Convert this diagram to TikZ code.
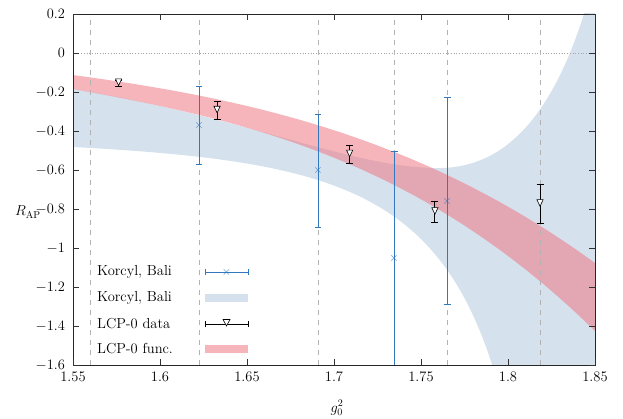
\documentclass[tikz,border=0pt]{standalone}
\definecolor{bandblue}{RGB}{213,226,238}
\definecolor{bandred}{RGB}{238,120,130}
\definecolor{ptblue}{RGB}{50,120,190}
\tikzset{
  tick/.style={line width=0.7pt,black!80},
  vline/.style={gray!60,dashed,dash pattern=on 5pt off 5pt,line width=0.7pt},
  ebb/.style={ptblue,line width=0.9pt},
  ebk/.style={black,line width=0.9pt},
  lbl/.style={font=\fontsize{14.5}{16}\selectfont,inner sep=1pt},
  xmark/.style={ptblue,inner sep=0pt,font=\fontsize{12}{12}\selectfont},
}
\begin{document}
\begin{tikzpicture}[x=1pt,y=1pt]
\useasboundingbox (0,0) rectangle (623,418);
\begin{scope}[x=1740pt,y=195pt,shift={(-2624pt,365pt)}]
\begin{scope}
\clip (1.55,-1.6) rectangle (1.85,0.2);
\fill[bandblue] (1.55,-0.185) .. controls (1.65,-0.33) and (1.71,-0.59) .. (1.76,-0.59)
 .. controls (1.80,-0.59) and (1.828,-0.3) .. (1.847,0.3) -- (1.87,0.5) -- (1.87,-2) -- (1.80,-1.9)
 .. controls (1.77,-0.72) and (1.71,-0.56) .. (1.55,-0.482) -- cycle;
\fill[bandred,opacity=0.55] (1.55,-0.113) .. controls (1.65,-0.233) and (1.75,-0.427) .. (1.85,-1.077)
 -- (1.85,-1.426) .. controls (1.75,-0.55) and (1.65,-0.345) .. (1.55,-0.185) -- cycle;
\end{scope}
\draw[gray!70,dotted,line width=0.7pt] (1.55,0) -- (1.85,0);
\foreach \g in {1.5598,1.6224,1.6908,1.7345,1.765,1.8184}
  \draw[vline] (\g,-1.6) -- (\g,0.2);
% blue data
\foreach \g/\r/\e in {1.6224/-0.374/0.2,1.6908/-0.605/0.29,1.7345/-1.056/0.55,1.765/-0.759/0.53}{
  \begin{scope}
  \clip (1.55,-1.6) rectangle (1.85,0.2);
  \draw[ebb] (\g,\r-\e) -- (\g,\r+\e);
  \draw[ebb] (\g-0.002,\r-\e) -- (\g+0.002,\r-\e);
  \draw[ebb] (\g-0.002,\r+\e) -- (\g+0.002,\r+\e);
  \node[xmark] at (\g,\r) {$\times$};
  \end{scope}}
% black data
\foreach \g/\r/\e in {1.5762/-0.155/0.015,1.6328/-0.295/0.048,1.709/-0.52/0.045,1.758/-0.815/0.054,1.8184/-0.774/0.102}{
  \draw[ebk] (\g,\r-\e) -- (\g,\r+\e);
  \draw[ebk] (\g-0.002,\r-\e) -- (\g+0.002,\r-\e);
  \draw[ebk] (\g-0.002,\r+\e) -- (\g+0.002,\r+\e);
  \draw[ebk,line width=0.6pt,fill=white] (\g-0.0018,\r+0.022) -- (\g+0.0018,\r+0.022) -- (\g,\r-0.012) -- cycle;}
% frame and ticks
\draw[black!85,line width=0.9pt] (1.55,-1.6) rectangle (1.85,0.2);
\foreach \x in {1.55,1.6,1.65,1.7,1.75,1.8,1.85}{
  \draw[tick] (\x,-1.6) -- ++(0,6pt) (\x,0.2) -- ++(0,-6pt);
  \node[lbl,below] at (\x,-1.63) {\x};}
\foreach \y/\t in {0.2/0.2,0/0,-0.2/-0.2,-0.4/-0.4,-0.6/-0.6,-0.8/-0.8,-1/-1,-1.2/-1.2,-1.4/-1.4,-1.6/-1.6}{
  \draw[tick] (1.55,\y) -- ++(6pt,0) (1.85,\y) -- ++(-6pt,0);
  \node[lbl,left] at (1.546,\y) {$\t$};}
\end{scope}
\node[lbl] (ylab) at (28,206) {$R_{\mathrm{AP}}$};
\node[lbl] (xlab) at (337,10) {$g_0^2$};
% legend
\node[lbl,right] (l1) at (96,146) {Korcyl, Bali};
\node[lbl,right] (l2) at (96,120) {Korcyl, Bali};
\node[lbl,right] (l3) at (96,94) {LCP-0 data};
\node[lbl,right] (l4) at (96,69) {LCP-0 func.};
\coordinate (a1) at (205,146); \coordinate (b1) at (248,146);
\draw[ebb] (a1) -- (b1) (205,143) -- (205,149) (248,143) -- (248,149);
\node[xmark] at (226.5,146) {$\times$};
\fill[bandblue] (205,116) rectangle (248,124);
\draw[ebk] (205,94) -- (248,94) (205,91) -- (205,97) (248,91) -- (248,97);
\draw[ebk,line width=0.6pt,fill=white] (223,98.5) -- (230,98.5) -- (226.5,92) -- cycle;
\fill[bandred,opacity=0.55] (205,65) rectangle (248,73);
\end{tikzpicture}
\end{document}
